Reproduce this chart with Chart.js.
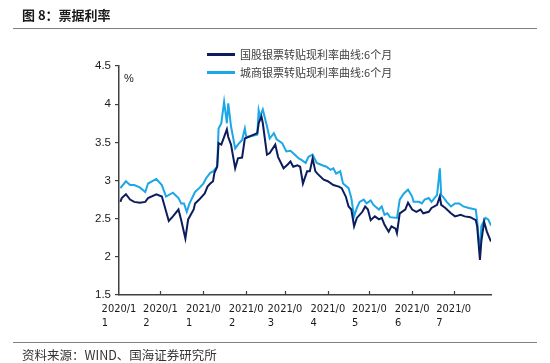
<!DOCTYPE html>
<html><head><meta charset="utf-8">
<script src="https://cdn.jsdelivr.net/npm/chart.js@4.4.0/dist/chart.umd.min.js"></script>
<style>
html,body{margin:0;padding:0;background:#fff;}
#wrap{position:relative;width:550px;height:363px;overflow:hidden;font-family:"Noto Sans CJK SC","Noto Sans",sans-serif;}
#c{position:absolute;left:0;top:0;}
.title{position:absolute;left:22px;top:5px;font-size:13px;font-weight:bold;color:#1a1a1a;line-height:20px;white-space:nowrap;}
.rule{position:absolute;left:13px;width:524px;height:0;border-top:1.5px solid #808080;}
.lg{position:absolute;left:207px;height:20px;white-space:nowrap;font-size:11px;color:#404040;line-height:20px;}
.lg i{position:absolute;left:0;top:9px;width:28px;height:2.5px;}
.lg span{position:absolute;left:33px;top:0;}
.pct{position:absolute;left:124px;top:72px;font-size:11px;font-family:"Liberation Sans",Arial,sans-serif;color:#1a1a1a;}
.src{position:absolute;left:22px;top:346px;font-size:12.5px;color:#333;line-height:18px;white-space:nowrap;}
</style></head>
<body>
<div id="wrap">
  <canvas id="c" width="550" height="363"></canvas>
  <div class="title">图 8：票据利率</div>
  <div class="rule" style="top:28px"></div>
  <div class="lg" style="top:44px"><i style="background:#0c1d5e"></i><span>国股银票转贴现利率曲线:6个月</span></div>
  <div class="lg" style="top:62px"><i style="background:#1ca7e6"></i><span>城商银票转贴现利率曲线:6个月</span></div>
  <div class="pct">%</div>
  <div class="rule" style="top:342px"></div>
  <div class="src">资料来源：WIND、国海证券研究所</div>
</div>
<script>
// ---- data ----
const seriesNames = ['国股银票转贴现利率曲线:6个月', '城商银票转贴现利率曲线:6个月'];

const guguDates = ['2020-11-02','2020-11-03','2020-11-06','2020-11-09','2020-11-12','2020-11-16','2020-11-20','2020-11-22','2020-11-28',
 '2020-12-02','2020-12-07','2020-12-10','2020-12-14','2020-12-16','2020-12-19','2020-12-21','2020-12-25','2020-12-26','2020-12-29',
 '2021-01-02','2021-01-04','2021-01-06','2021-01-08','2021-01-09','2021-01-11','2021-01-12','2021-01-14','2021-01-18','2021-01-19','2021-01-21','2021-01-24','2021-01-26','2021-01-29','2021-01-31',
 '2021-02-09','2021-02-10','2021-02-12','2021-02-13','2021-02-16','2021-02-18','2021-02-22','2021-02-24','2021-02-28',
 '2021-03-03','2021-03-05','2021-03-07','2021-03-10','2021-03-12','2021-03-14','2021-03-17','2021-03-19','2021-03-21','2021-03-23','2021-03-25','2021-03-29',
 '2021-04-01','2021-04-05','2021-04-09','2021-04-11','2021-04-14','2021-04-16','2021-04-18','2021-04-20','2021-04-22','2021-04-26','2021-04-28','2021-04-30',
 '2021-05-02','2021-05-05','2021-05-08','2021-05-10','2021-05-12','2021-05-15','2021-05-17','2021-05-20','2021-05-21','2021-05-23','2021-05-27','2021-05-29',
 '2021-06-01','2021-06-04','2021-06-07','2021-06-09','2021-06-13','2021-06-15','2021-06-19','2021-06-21','2021-06-22','2021-06-25','2021-06-29',
 '2021-07-02','2021-07-06','2021-07-09','2021-07-13','2021-07-17','2021-07-18','2021-07-20','2021-07-21','2021-07-23','2021-07-25','2021-07-28'];
const guguRates = [2.72,2.77,2.82,2.75,2.72,2.71,2.72,2.77,2.82,
 2.79,2.47,2.53,2.62,2.48,2.24,2.49,2.62,2.70,2.75,
 2.83,2.92,2.96,2.99,3.10,3.18,3.49,3.47,3.67,3.57,3.47,3.16,3.29,3.30,3.55,
 3.62,3.75,3.84,3.75,3.34,3.36,3.47,3.31,3.16,
 3.21,3.25,3.18,3.20,3.18,2.96,3.12,3.12,3.29,3.12,3.08,3.01,
 2.99,2.94,2.92,2.90,2.79,2.66,2.62,2.40,2.51,2.59,2.66,2.62,
 2.48,2.53,2.49,2.51,2.42,2.33,2.40,2.37,2.31,2.57,2.62,2.71,
 2.62,2.59,2.62,2.57,2.59,2.64,2.68,2.79,2.68,2.64,2.57,
 2.53,2.55,2.53,2.52,2.48,2.40,1.96,2.20,2.46,2.33,2.20];

const chengDates = ['2020-11-02','2020-11-06','2020-11-09','2020-11-12','2020-11-16','2020-11-20','2020-11-22','2020-11-28',
 '2020-12-02','2020-12-05','2020-12-10','2020-12-14','2020-12-16','2020-12-18','2020-12-20','2020-12-22','2020-12-26','2020-12-29',
 '2021-01-01','2021-01-03','2021-01-06','2021-01-08','2021-01-11','2021-01-12','2021-01-14','2021-01-16','2021-01-18','2021-01-19','2021-01-21','2021-01-24','2021-01-26','2021-01-29','2021-01-31',
 '2021-02-01','2021-02-04','2021-02-09','2021-02-10','2021-02-11','2021-02-13','2021-02-16','2021-02-18','2021-02-21','2021-02-23','2021-02-27',
 '2021-03-02','2021-03-05','2021-03-08','2021-03-11','2021-03-13','2021-03-16','2021-03-18','2021-03-21','2021-03-24','2021-03-28','2021-03-31',
 '2021-04-03','2021-04-05','2021-04-07','2021-04-10','2021-04-12','2021-04-16','2021-04-18','2021-04-20','2021-04-22','2021-04-24','2021-04-27','2021-04-29',
 '2021-05-02','2021-05-04','2021-05-08','2021-05-10','2021-05-12','2021-05-14','2021-05-16','2021-05-21','2021-05-23','2021-05-26','2021-05-29',
 '2021-06-01','2021-06-02','2021-06-06','2021-06-08','2021-06-10','2021-06-13','2021-06-15','2021-06-18','2021-06-19','2021-06-21','2021-06-22','2021-06-24','2021-06-26','2021-06-29',
 '2021-07-02','2021-07-05','2021-07-08','2021-07-12','2021-07-17','2021-07-18','2021-07-20','2021-07-21','2021-07-24','2021-07-26','2021-07-28'];
const chengRates = [2.90,2.99,2.94,2.94,2.91,2.85,2.96,3.02,
 2.94,2.79,2.84,2.77,2.70,2.70,2.59,2.70,2.85,2.90,
 2.96,3.03,3.10,3.12,3.18,3.68,3.75,4.03,3.75,4.01,3.71,3.42,3.47,3.53,3.68,
 3.57,3.58,3.60,3.92,3.84,3.93,3.71,3.55,3.62,3.54,3.49,
 3.38,3.39,3.34,3.29,3.27,3.23,3.31,3.34,3.23,3.20,3.18,
 3.14,3.16,3.09,3.12,2.96,2.90,2.77,2.53,2.64,2.72,2.75,2.70,
 2.74,2.68,2.62,2.66,2.55,2.57,2.52,2.51,2.75,2.83,2.88,
 2.79,2.72,2.72,2.70,2.75,2.77,2.72,2.79,2.81,3.16,2.81,2.77,2.72,2.66,
 2.70,2.70,2.66,2.64,2.62,2.47,2.05,2.40,2.51,2.49,2.41];

const monthTicks = ['2020-11-01','2020-12-01','2021-01-01','2021-02-01','2021-03-01','2021-04-01','2021-05-01','2021-06-01','2021-07-01'];
const tickLine1 = ['2020/1','2020/1','2021/0','2021/0','2021/0','2021/0','2021/0','2021/0','2021/0'];
const tickLine2 = ['1','2','1','2','3','4','5','6','7'];
const axisStart = '2020-11-01';
const axisEnd = '2021-07-28';
const yTicks = [1.5, 2, 2.5, 3, 3.5, 4, 4.5];

// ---- helpers ----
function dayNum(s){ const p=s.split('-').map(Number); return Date.UTC(p[0],p[1]-1,p[2])/86400000; }
const d0 = dayNum(axisStart);
const toXY = (dates, vals) => dates.map((d,i)=>({x: dayNum(d)-d0, y: vals[i]}));
const tickDays = monthTicks.map(d=>dayNum(d)-d0);

const AXIS = '#404040';
const innerTicks = {
  id:'innerTicks',
  afterDraw(chart){
    const xs = chart.scales.x, ctx = chart.ctx, b = chart.chartArea.bottom;
    ctx.save(); ctx.strokeStyle = AXIS; ctx.lineWidth = 1.2;
    tickDays.forEach(v=>{ if(v<=0) return; const px = Math.round(xs.getPixelForValue(v))+0.5;
      ctx.beginPath(); ctx.moveTo(px,b); ctx.lineTo(px,b-4); ctx.stroke(); });
    ctx.restore();
  }
};

new Chart(document.getElementById('c'), {
  type:'line',
  data:{ datasets:[
    { label: seriesNames[0], data: toXY(guguDates, guguRates), borderColor:'#0c1d5e', borderWidth:2, pointRadius:0, tension:0 },
    { label: seriesNames[1], data: toXY(chengDates, chengRates), borderColor:'#1ca7e6', borderWidth:2, pointRadius:0, tension:0 }
  ]},
  options:{
    responsive:false, animation:false, devicePixelRatio:1,
    layout:{ padding:{ left:0, right:59, top:66, bottom:0 } },
    plugins:{ legend:{display:false}, tooltip:{enabled:false} },
    scales:{
      x:{ type:'linear', min:0, max: dayNum(axisEnd)-d0,
        afterBuildTicks(s){ s.ticks = tickDays.map(v=>({value:v})); },
        afterFit(s){ s.height = 68; },
        grid:{ display:false, drawTicks:false, tickLength:0 },
        border:{ display:true, color:AXIS, width:1.5 },
        ticks:{ autoSkip:false, maxRotation:0, padding:8, color:'#1a1a1a',
          font:{ family:'"Liberation Sans Narrow","DejaVu Sans Condensed","Liberation Sans",sans-serif', size:11, lineHeight:1.2 },
          callback(v, i){ return [tickLine1[i], tickLine2[i] + '\u00a0'.repeat(9)]; } }
      },
      y:{ min:1.5, max:4.5,
        afterBuildTicks(s){ s.ticks = yTicks.map(v=>({value:v})); },
        afterFit(s){ s.width = 119; },
        grid:{ display:true, drawOnChartArea:false, drawTicks:true, tickLength:4, color:AXIS, lineWidth:1.2 },
        border:{ display:true, color:AXIS, width:1.5 },
        ticks:{ padding:4, color:'#1a1a1a', font:{ family:'"Liberation Sans",Arial,sans-serif', size:11.5 },
          callback(v){ return String(v); } }
      }
    }
  },
  plugins:[innerTicks]
});
</script>
</body></html>
